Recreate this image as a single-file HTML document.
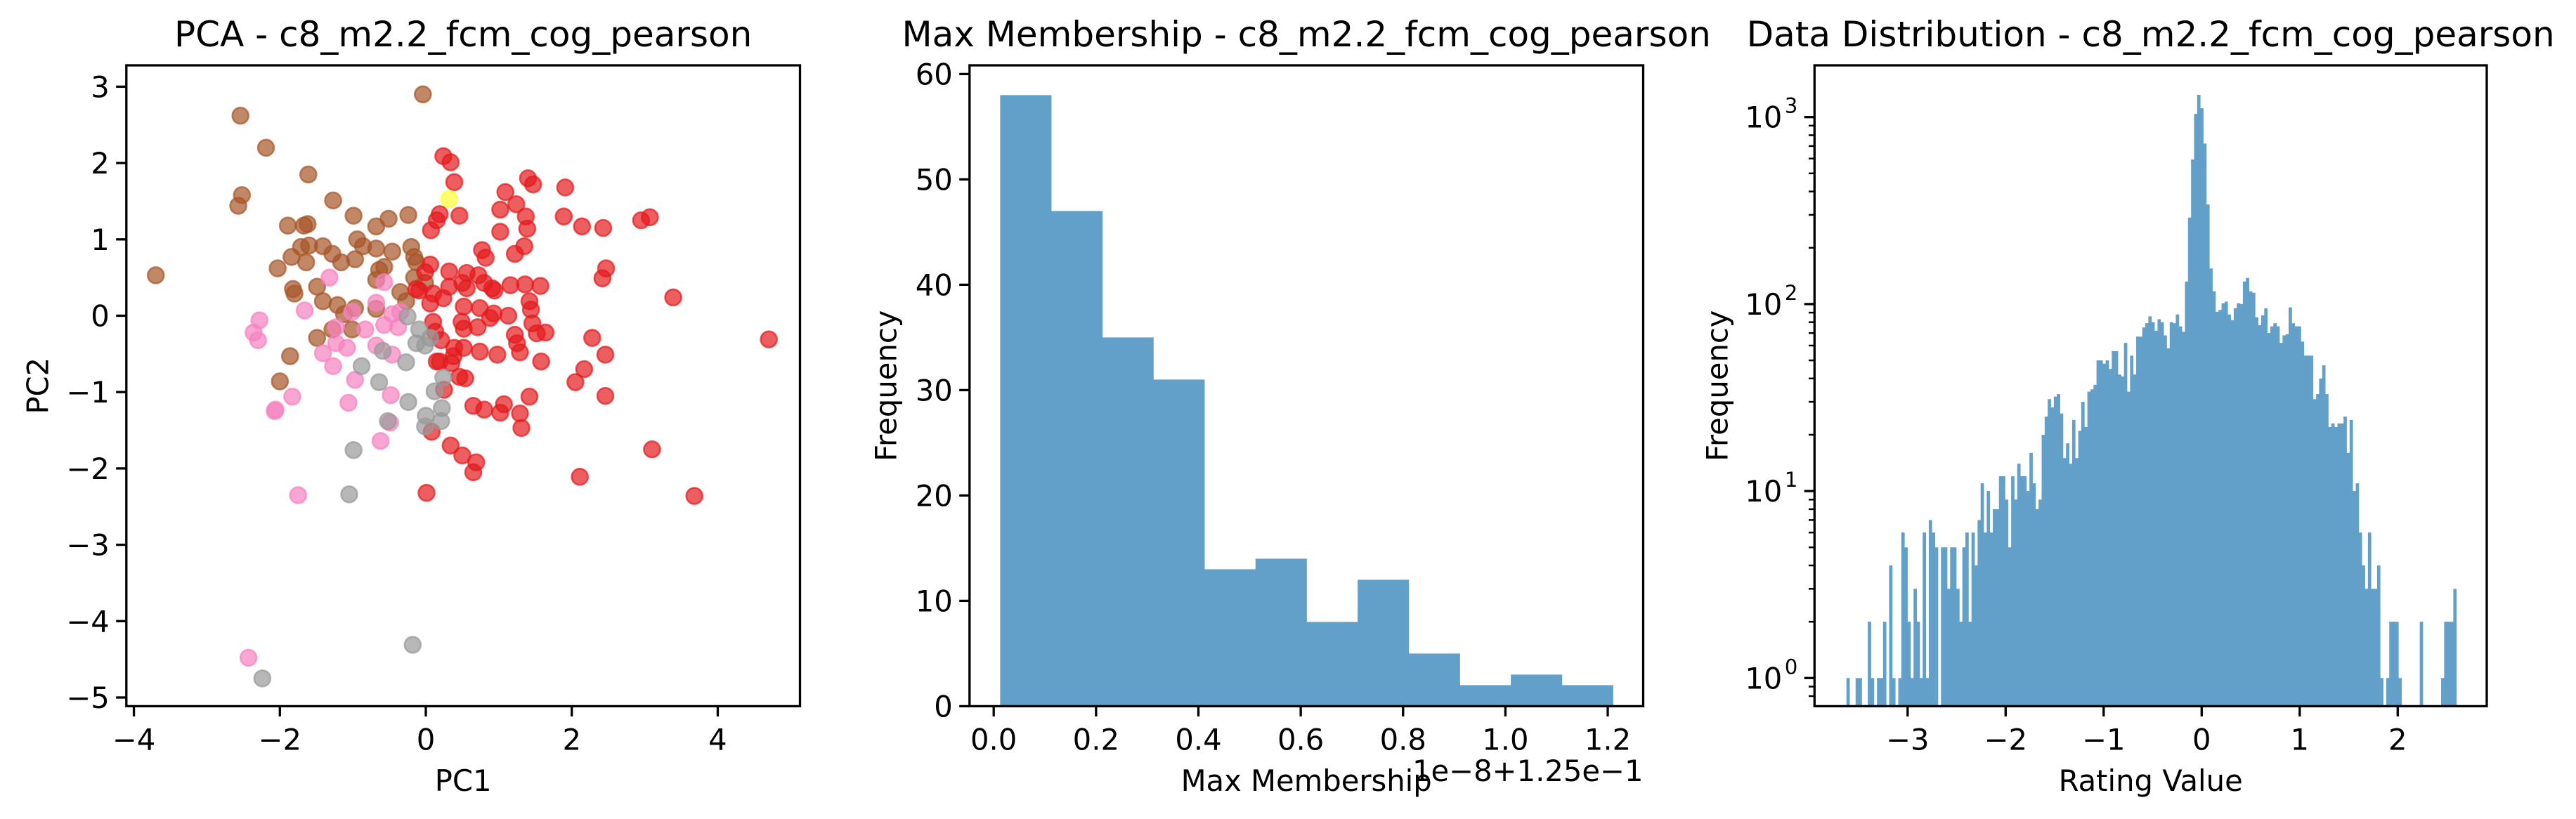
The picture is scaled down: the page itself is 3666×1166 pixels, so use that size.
<!DOCTYPE html>
<html><head><meta charset="utf-8">
<style>
html,body{margin:0;padding:0;background:#fff;}
svg{display:block;font-family:"DejaVu Sans","Liberation Sans",sans-serif;}
</style></head>
<body>
<svg id="fig" width="3666" height="1166" viewBox="0 0 3666 1166" xmlns="http://www.w3.org/2000/svg">
<rect width="3666" height="1166" fill="#fff"/>
<g id="p1"></g>
<g id="p2"></g>
<g id="p3"></g>
</svg>
<script>
// ---------- PCA data ----------
const brownX=[-3.70,-2.54,-2.19,-1.61,-2.52,-2.57,-1.27,-0.04,-0.99,-1.89,-1.67,-1.62,-0.68,-0.51,-0.24,-0.94,-0.86,-1.71,-1.60,-1.41,-1.28,-1.84,-1.64,-1.16,-0.97,-0.68,-0.46,-0.20,-0.16,-0.13,-2.03,-0.64,-0.68,-0.57,-0.16,-1.82,-1.49,-1.80,-0.35,-1.41,-1.21,-0.97,-0.68,-0.27,-1.49,-1.28,-1.01,-1.86,-2.00,-0.01,-1.12];
const brownY=[0.53,2.62,2.20,1.85,1.58,1.44,1.51,2.90,1.31,1.18,1.18,1.20,1.17,1.27,1.32,1.00,0.91,0.90,0.92,0.91,0.81,0.77,0.70,0.70,0.74,0.88,0.84,0.90,0.77,0.70,0.62,0.60,0.47,0.64,0.50,0.35,0.38,0.29,0.31,0.19,0.14,0.10,0.09,0.19,-0.29,-0.18,-0.18,-0.53,-0.86,0.43,0.02];
const pinkX=[-1.32,-0.57,-1.66,-0.68,-1.01,-0.46,-0.35,-2.28,-2.36,-2.30,-1.23,-0.83,-0.57,-0.38,-1.23,-1.08,-1.41,-1.27,-0.46,-0.97,-1.83,-2.06,-2.07,-1.06,-0.48,-0.49,-0.62,-1.75,-2.43,-0.68];
const pinkY=[0.50,0.44,0.07,0.17,0.05,0.02,0.05,-0.06,-0.22,-0.32,-0.15,-0.18,-0.12,-0.15,-0.36,-0.42,-0.49,-0.66,-0.51,-0.84,-1.06,-1.23,-1.25,-1.14,-1.04,-1.40,-1.64,-2.35,-4.48,-0.39];
const grayX=[-0.25,-0.09,0.06,-0.13,-0.01,-0.59,-0.27,-0.88,-0.64,0.24,0.12,-0.24,0.22,0.00,0.21,-0.01,-0.52,-0.99,-1.05,-0.18,-2.24];
const grayY=[-0.01,-0.18,-0.29,-0.36,-0.39,-0.46,-0.61,-0.66,-0.87,-0.81,-0.99,-1.13,-1.21,-1.31,-1.38,-1.45,-1.38,-1.76,-2.34,-4.31,-4.75];
const redX=[0.24,0.34,0.39,0.19,0.15,0.07,0.46,1.40,1.47,1.91,1.09,1.02,1.24,1.37,1.39,1.02,1.89,2.14,2.43,2.95,3.07,1.35,1.22,0.77,0.82,2.47,2.42,3.39,4.70,0.06,-0.01,0.32,0.56,0.72,0.80,0.91,0.94,1.16,1.36,1.57,-0.13,0.10,0.32,0.50,0.56,0.06,0.24,0.52,0.74,0.93,1.13,1.42,1.44,0.10,0.13,0.49,0.52,0.71,0.88,1.22,1.46,1.52,1.64,0.21,1.25,1.29,2.28,2.46,0.39,0.52,0.74,0.98,0.38,0.35,0.15,1.58,0.46,0.54,2.17,2.05,0.25,1.42,2.46,0.65,0.80,1.02,1.07,1.29,1.31,0.08,0.34,0.50,0.69,0.65,3.10,2.11,0.01,3.68,0.19,-0.09];
const redY=[2.09,2.01,1.75,1.33,1.25,1.12,1.31,1.80,1.72,1.68,1.62,1.39,1.46,1.30,1.14,1.10,1.30,1.17,1.15,1.25,1.29,0.91,0.81,0.86,0.76,0.62,0.49,0.24,-0.31,0.67,0.57,0.58,0.56,0.53,0.43,0.36,0.33,0.40,0.41,0.39,0.35,0.29,0.38,0.43,0.36,0.16,0.23,0.12,0.10,0.03,0.00,0.19,0.08,-0.08,-0.21,-0.08,-0.17,-0.15,-0.03,-0.25,-0.10,-0.23,-0.22,-0.32,-0.36,-0.48,-0.29,-0.51,-0.42,-0.42,-0.47,-0.51,-0.53,-0.62,-0.60,-0.60,-0.80,-0.82,-0.70,-0.87,-0.97,-1.06,-1.05,-1.18,-1.23,-1.27,-1.16,-1.28,-1.47,-1.52,-1.70,-1.83,-1.92,-2.05,-1.75,-2.11,-2.32,-2.36,-0.60,0.33];
const yellowX=[0.32];
const yellowY=[1.53];
const pcaXTicks=[-4,-2,0,2,4];
const pcaYTicks=[-5,-4,-3,-2,-1,0,1,2,3];

// ---------- Max membership histogram ----------
const mmCounts=[58,47,35,31,13,14,8,12,5,2,3,2];
const mmStart=0.0126;
const mmWidth=0.0998;
const mmXTicks=[0.0,0.2,0.4,0.6,0.8,1.0,1.2];
const mmYTicks=[0,10,20,30,40,50,60];

// ---------- Rating distribution histogram (log) ----------
const rvCounts=[1,0,0,1,1,0,0,2,1,0,1,1,2,0,4,1,0,1,6,5,2,1,3,2,1,6,1,7,6,5,0,5,5,3,5,5,3,2,5,6,2,6,4,7,11,6,10,6,8,8,12,12,9,5,12,9,14,12,12,10,16,11,8,9,20,25,31,28,32,33,26,15,18,14,24,15,21,30,22,34,35,37,50,50,48,50,45,56,56,42,41,62,34,53,42,67,67,75,79,86,80,72,83,80,68,58,80,79,88,76,71,132,290,593,1040,1315,1115,722,341,155,117,91,93,101,103,88,82,95,101,100,132,138,117,115,85,77,87,95,70,76,79,76,62,68,69,96,79,76,76,63,53,53,53,31,33,40,47,33,22,23,22,23,23,25,16,24,10,11,6,4,3,6,3,3,4,1,0,1,2,2,2,1,0,0,0,0,0,0,2,0,0,0,0,0,0,1,2,2,2,3];
const rvStart=-3.624;
const rvEnd=2.598;
const rvXTicks=[-3,-2,-1,0,1,2];
const rvYDecades=[0,1,2,3];

const NS="http://www.w3.org/2000/svg";
function mk(parent,tag,attrs,text){const e=document.createElementNS(NS,tag);for(const k in attrs)e.setAttribute(k,attrs[k]);if(text!==undefined)e.textContent=text;parent.appendChild(e);return e;}
const fmtMinus=v=>String(v).replace('-','\u2212');
const TICK=14.6, SW=3.3, FS=41.7, TFS=50;

function frame(g,L,R,T,B){
  const r=mk(g,'rect',{x:L,y:T,width:R-L,height:B-T,fill:'none',stroke:'#000','stroke-width':SW});
  
  
}
function xtick(g,x,B,label){
  const l=mk(g,'line',{x1:x,x2:x,y1:B,y2:B+TICK,stroke:'#000','stroke-width':SW});
  
  
  const t=mk(g,'text',{x:x,y:B+62,'font-size':FS,'text-anchor':'middle'},label);
  
  
}
function ytick(g,y,L,label){
  const l=mk(g,'line',{x1:L-TICK,x2:L,y1:y,y2:y,stroke:'#000','stroke-width':SW});
  
  
  if(label!==null){
    const t=mk(g,'text',{x:L-24,y:y+15,'font-size':FS,'text-anchor':'end'},label);
    
    
  }
}
function title(g,cx,txt){
  const t=mk(g,'text',{x:cx,y:66,'font-size':TFS,'text-anchor':'middle'},txt);
  
  
}
function xlabel(g,cx,txt){
  const t=mk(g,'text',{x:cx,y:1126,'font-size':FS,'text-anchor':'middle'},txt);
  
  
}
function ylabel(g,cx,cy,txt){
  const t=mk(g,'text',{x:cx,y:cy,'font-size':FS,'text-anchor':'middle',transform:`rotate(-90 ${cx} ${cy})`,'dominant-baseline':'central'},txt);
  
  
}

// ---------- Panel 1 ----------
(function(){
  const g=document.getElementById('p1');
  const L=179.8,R=1138.5,T=93,B=1005.4;
  const sx=x=>606+103.86*x, sy=y=>449.5-108.7*y;
  const groups=[[brownX,brownY,'#a65628','brown'],[redX,redY,'#e41a1c','red'],[pinkX,pinkY,'#f781bf','pink'],[grayX,grayY,'#999999','gray'],[yellowX,yellowY,'#ffff33','yellow']];
  groups.forEach(([xs,ys,c,n])=>{
    xs.forEach((x,i)=>{
      const p=mk(g,'circle',{cx:sx(x),cy:sy(ys[i]),r:11.5,fill:c,'fill-opacity':0.7,stroke:c,'stroke-opacity':0.7,'stroke-width':2.6});
      
      
    });
  });
  frame(g,L,R,T,B);
  pcaXTicks.forEach(v=>xtick(g,sx(v),B,fmtMinus(v)));
  pcaYTicks.forEach(v=>ytick(g,sy(v),L,fmtMinus(v)));
  title(g,(L+R)/2,'PCA - c8_m2.2_fcm_cog_pearson');
  xlabel(g,(L+R)/2,'PC1');
  ylabel(g,54,(T+B)/2,'PC2');
})();

// ---------- Panel 2 ----------
(function(){
  const g=document.getElementById('p2');
  const L=1379.8,R=2338.5,T=93,B=1005.4;
  const sx=v=>1414.2+728.2*v, sy=c=>1005.4-15.0*c;
  mmCounts.forEach((c,i)=>{
    const x0=sx(mmStart+i*mmWidth), x1=sx(mmStart+(i+1)*mmWidth);
    const b=mk(g,'rect',{x:x0,y:sy(c),width:x1-x0+0.4,height:B-sy(c),fill:'#62a0ca'});
    
    
  });
  frame(g,L,R,T,B);
  mmXTicks.forEach(v=>xtick(g,sx(v),B,v.toFixed(1)));
  mmYTicks.forEach(v=>ytick(g,sy(v),L,String(v)));
  title(g,(L+R)/2,'Max Membership - c8_m2.2_fcm_cog_pearson');
  xlabel(g,(L+R)/2,'Max Membership');
  const o=mk(g,'text',{x:R,y:1112,'font-size':FS,'text-anchor':'end'},'1e\u22128+1.25e\u22121');
  
  
  ylabel(g,1261,(T+B)/2,'Frequency');
})();

// ---------- Panel 3 ----------
(function(){
  const g=document.getElementById('p3');
  const L=2582.3,R=3539,T=93,B=1005.4;
  const sx=v=>3133.3+139.5*v, sy=c=>965.3-266.2*Math.log10(c);
  const w=(rvEnd-rvStart)/rvCounts.length;
  rvCounts.forEach((c,i)=>{
    if(c<=0) return;
    const x0=sx(rvStart+i*w), x1=sx(rvStart+(i+1)*w);
    const b=mk(g,'rect',{x:x0,y:sy(c),width:x1-x0+0.4,height:B-sy(c),fill:'#62a0ca'});
    
    
  });
  frame(g,L,R,T,B);
  rvXTicks.forEach(v=>xtick(g,sx(v),B,fmtMinus(v)));
  rvYDecades.forEach(d=>{
    const y=sy(Math.pow(10,d));
    ytick(g,y,L,null);
    const t=mk(g,'text',{x:L-24-22,y:y+15,'font-size':FS,'text-anchor':'end'},'10');
    
    
    const s=mk(g,'text',{x:L-24,y:y-6,'font-size':29,'text-anchor':'end'},String(d));
    
    
  });
  for(let d=-1; d<=3; d++){
    for(let m=2;m<=9;m++){
      const v=m*Math.pow(10,d), y=sy(v);
      if(y>B||y<T) continue;
      const l=mk(g,'line',{x1:L-8.3,x2:L,y1:y,y2:y,stroke:'#000','stroke-width':2.5});
      
      
    }
  }
  title(g,(L+R)/2,'Data Distribution - c8_m2.2_fcm_cog_pearson');
  xlabel(g,(L+R)/2,'Rating Value');
  ylabel(g,2444,(T+B)/2,'Frequency');
})();
</script>
</body></html>
